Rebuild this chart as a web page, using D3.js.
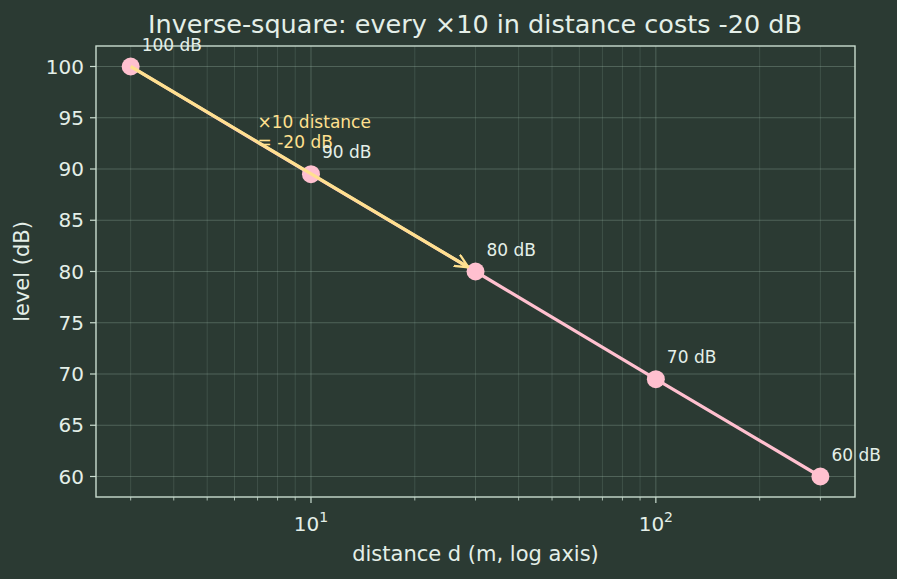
<!DOCTYPE html>
<html>
<head>
<meta charset="utf-8">
<script src="https://cdn.jsdelivr.net/npm/d3@7"></script>
<style>
  body { margin: 0; background: #2b3a33; }
  svg { display: block; font-family: "DejaVu Sans", sans-serif; }
</style>
</head>
<body>
<div id="chart"></div>
<script>
// data
const distances = [3, 10, 30, 100, 300];
const levels = [100, 89.5, 80, 69.5, 60];
const pointLabels = ["100 dB", "90 dB", "80 dB", "70 dB", "60 dB"];
const yTicks = [60, 65, 70, 75, 80, 85, 90, 95, 100];
const arrowFrom = [3, 100];
const arrowTo = [30, 80];
const noteLines = ["×10 distance", "= -20 dB"];

const W = 897, H = 579;
const margin = {top: 46, right: 42, bottom: 82, left: 96};
const width = W - margin.left - margin.right,
      height = H - margin.top - margin.bottom;

const bg = "#2b3a33", fg = "#e4efe8", spine = "#c9dccf";
const pink = "#ffc0cf", yellow = "#ffe08f";

const svg = d3.select("#chart").append("svg")
    .attr("width", W).attr("height", H)
    .style("background", bg);

const x = d3.scaleLog().domain([2.38, 378]).range([0, width]);
const y = d3.scaleLinear().domain([58, 102]).range([height, 0]);

const g = svg.append("g").attr("transform", `translate(${margin.left},${margin.top})`);

// grid: major + minor on x
const xMinor = [];
[1, 10, 100].forEach(dec => { for (let k = 1; k < 10; k++) xMinor.push(dec * k); });
const xAll = xMinor.filter(v => v >= 2.38 && v <= 378);
const xMajor = [10, 100];

g.selectAll("line.xgrid").data(xAll).enter().append("line")
  .attr("x1", d => x(d)).attr("x2", d => x(d))
  .attr("y1", 0).attr("y2", height)
  .attr("stroke", "#a6c2b2")
  .attr("stroke-opacity", d => xMajor.includes(d) ? 0.3 : 0.17)
  .attr("stroke-width", 1);

g.selectAll("line.ygrid").data(yTicks).enter().append("line")
  .attr("x1", 0).attr("x2", width)
  .attr("y1", d => y(d)).attr("y2", d => y(d))
  .attr("stroke", "#a6c2b2").attr("stroke-opacity", 0.3).attr("stroke-width", 1);

// x axis ticks
const xAxis = g.append("g").attr("transform", `translate(0,${height})`);
xAxis.selectAll("line").data(xAll).enter().append("line")
  .attr("x1", d => x(d)).attr("x2", d => x(d))
  .attr("y1", 0).attr("y2", d => xMajor.includes(d) ? 6 : 3.5)
  .attr("stroke", spine).attr("stroke-width", d => xMajor.includes(d) ? 1.2 : 0.8);
xAxis.selectAll("text").data(xMajor).enter().append("text")
  .attr("x", d => x(d)).attr("y", 34)
  .attr("text-anchor", "middle").attr("fill", fg).style("font-size", "20px")
  .each(function(d) {
    const t = d3.select(this);
    t.append("tspan").text("10");
    t.append("tspan").attr("dy", -9).style("font-size", "14px").text(Math.round(Math.log10(d)));
  });

// y axis ticks
const yAxis = g.append("g");
yAxis.selectAll("line").data(yTicks).enter().append("line")
  .attr("x1", -6).attr("x2", 0)
  .attr("y1", d => y(d)).attr("y2", d => y(d))
  .attr("stroke", spine).attr("stroke-width", 1.2);
yAxis.selectAll("text").data(yTicks).enter().append("text")
  .attr("x", -12).attr("y", d => y(d)).attr("dy", "0.36em")
  .attr("text-anchor", "end").attr("fill", fg).style("font-size", "20px")
  .text(d => d);

// frame
g.append("rect").attr("width", width).attr("height", height)
  .attr("fill", "none").attr("stroke", spine).attr("stroke-width", 1.4);

// line + points
const pts = distances.map((d, i) => ({d, v: levels[i], label: pointLabels[i]}));
g.append("path").datum(pts)
  .attr("d", d3.line().x(p => x(p.d)).y(p => y(p.v)))
  .attr("fill", "none").attr("stroke", pink).attr("stroke-width", 3.2);

g.selectAll("circle").data(pts).enter().append("circle")
  .attr("cx", p => x(p.d)).attr("cy", p => y(p.v)).attr("r", 9)
  .attr("fill", pink);

// annotation arrow
svg.append("defs").append("marker")
  .attr("id", "ah").attr("viewBox", "0 0 10 10").attr("refX", 9).attr("refY", 5)
  .attr("markerWidth", 4.5).attr("markerHeight", 4.5).attr("markerUnits", "strokeWidth")
  .attr("orient", "auto")
  .append("path").attr("d", "M0,0.5 L9.5,5 L0,9.5").attr("fill", "none")
  .attr("stroke", yellow).attr("stroke-width", 1.6);

const ax0 = x(arrowFrom[0]), ay0 = y(arrowFrom[1]);
const ax1 = x(arrowTo[0]), ay1 = y(arrowTo[1]);
const len = Math.hypot(ax1 - ax0, ay1 - ay0);
const shrink = 9;
g.append("line")
  .attr("x1", ax0).attr("y1", ay0)
  .attr("x2", ax1 - (ax1 - ax0) / len * shrink)
  .attr("y2", ay1 - (ay1 - ay0) / len * shrink)
  .attr("stroke", yellow).attr("stroke-width", 3.2)
  .attr("marker-end", "url(#ah)");

g.append("text").attr("x", x(7)).attr("y", y(94)).attr("fill", yellow)
  .style("font-size", "17px")
  .selectAll("tspan").data(noteLines).enter().append("tspan")
  .attr("x", x(7)).attr("dy", (d, i) => i === 0 ? 0 : 20).text(d => d);

// point labels
g.selectAll("text.plabel").data(pts).enter().append("text")
  .attr("x", p => x(p.d) + 11).attr("y", p => y(p.v) - 16)
  .attr("fill", fg).style("font-size", "17px")
  .text(p => p.label);

// title and axis labels
svg.append("text").attr("x", margin.left + width / 2 - 0.5).attr("y", 33)
  .attr("text-anchor", "middle").attr("fill", fg).style("font-size", "25.5px")
  .text("Inverse-square: every ×10 in distance costs -20 dB");

svg.append("text").attr("x", margin.left + width / 2).attr("y", 561)
  .attr("text-anchor", "middle").attr("fill", fg).style("font-size", "21px")
  .text("distance d (m, log axis)");

svg.append("text")
  .attr("transform", `translate(29,${margin.top + height / 2}) rotate(-90)`)
  .attr("text-anchor", "middle").attr("fill", fg).style("font-size", "21px")
  .text("level (dB)");
</script>
</body>
</html>
